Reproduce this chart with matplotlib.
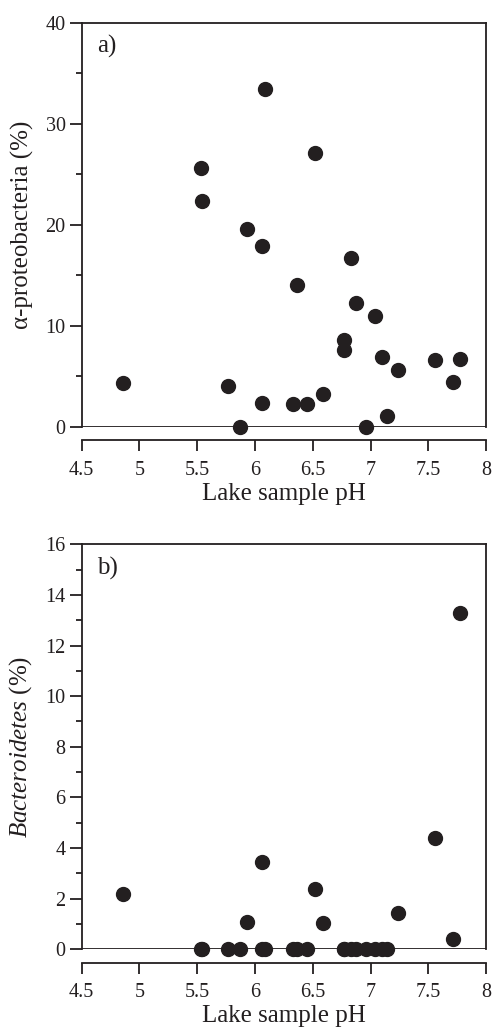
import matplotlib
matplotlib.use("Agg")
from matplotlib import pyplot as plt
from matplotlib.ticker import MultipleLocator

# lake sample pH (same lakes in both panels)
ph = [4.86, 5.53, 5.54, 5.77, 5.87, 5.93, 6.06, 6.06, 6.09, 6.33, 6.36, 6.45, 6.52,
      6.59, 6.77, 6.77, 6.83, 6.875, 6.96, 7.04, 7.10, 7.14, 7.24, 7.56, 7.71, 7.77]

# a) alpha-proteobacteria (%)
alpha = [4.36, 25.6, 22.3, 4.03, 0.0, 19.6, 17.9, 2.31, 33.4, 2.25, 14.0, 2.25, 27.1,
         3.2, 8.58, 7.6, 16.7, 12.2, 0.0, 11.0, 6.93, 1.06, 5.61, 6.6, 4.43, 6.67]

# b) Bacteroidetes (%)
bacteroidetes = [2.17, 0.0, 0.0, 0.0, 0.0, 1.09, 3.45, 0.0, 0.0, 0.0, 0.0, 0.0, 2.37,
                 1.05, 0.0, 0.0, 0.0, 0.0, 0.0, 0.0, 0.0, 0.0, 1.42, 4.4, 0.41, 13.3]

xticks = [4.5, 5, 5.5, 6, 6.5, 7, 7.5, 8]
xticklabels = ["4.5", "5", "5.5", "6", "6.5", "7", "7.5", "8"]

plt.rcParams["font.family"] = ["Liberation Serif", "DejaVu Serif"]
plt.rcParams["mathtext.fontset"] = "custom"
plt.rcParams["mathtext.rm"] = "Liberation Serif"
plt.rcParams["mathtext.it"] = "Liberation Serif:italic"
ink = "#231f20"

fig = plt.figure(figsize=(4.92, 10.27), dpi=100)
ax1 = fig.add_axes([0.166, 0.5845, 0.822, 0.3934])
ax2 = fig.add_axes([0.166, 0.0757, 0.822, 0.3943])


def style(ax, ymax, major, minor, ylabel, tag):
    ax.set_xlim(4.5, 8)
    ax.set_ylim(0, ymax)
    for s in ax.spines.values():
        s.set_linewidth(1.3)
        s.set_color(ink)
    ax.spines["bottom"].set_position(("outward", 9.6))
    ax.axhline(0, color=ink, lw=1.3, zorder=1)
    ax.set_xticks(xticks)
    ax.set_xticklabels(xticklabels)
    ax.yaxis.set_major_locator(MultipleLocator(major))
    ax.yaxis.set_minor_locator(MultipleLocator(minor))
    ax.tick_params(axis="x", direction="out", length=8, width=1.3, labelsize=14.5,
                   pad=7, colors=ink)
    ax.tick_params(axis="y", which="major", direction="out", length=8.5, width=1.3,
                   labelsize=14.5, pad=3, colors=ink)
    ax.tick_params(axis="y", which="minor", direction="out", length=4.3, width=1.3,
                   colors=ink)
    ax.set_xlabel("Lake sample pH", fontsize=18, color=ink, labelpad=2)
    ax.set_ylabel(ylabel, fontsize=18, color=ink, labelpad=8)
    ax.text(0.038, 0.94, tag, transform=ax.transAxes, fontsize=18, color=ink,
            va="center", ha="left")


ax1.plot(ph, alpha, "o", color=ink, markersize=10, clip_on=False, zorder=3)
style(ax1, 40, 10, 5, "α-proteobacteria (%)", "a)")

ax2.plot(ph, bacteroidetes, "o", color=ink, markersize=10, clip_on=False, zorder=3)
style(ax2, 16, 2, 1, r"$\mathit{Bacteroidetes}$ (%)", "b)")

fig.savefig("out.png", dpi=100)
